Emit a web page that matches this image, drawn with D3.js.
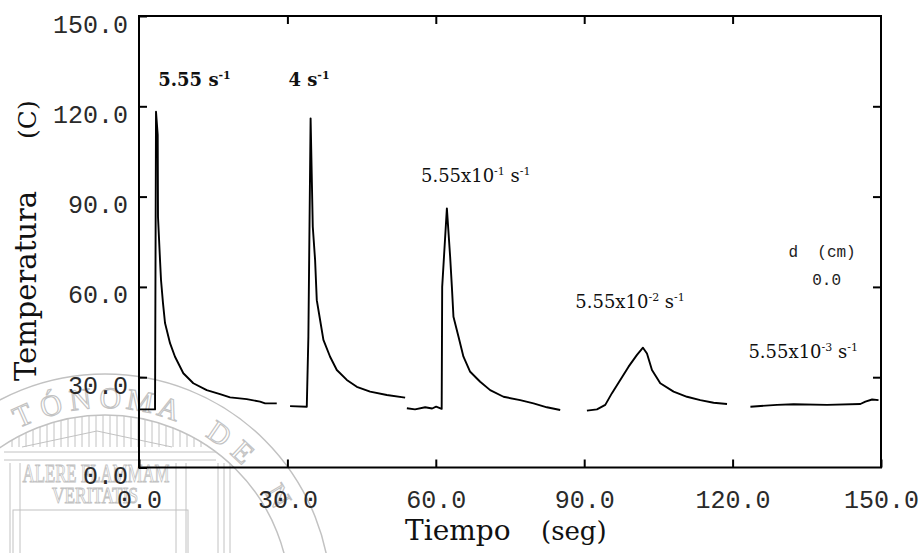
<!DOCTYPE html>
<html>
<head>
<meta charset="utf-8">
<script src="https://cdn.jsdelivr.net/npm/d3@7"></script>
<style>
  body { margin: 0; background: #fff; }
  svg { display: block; }
  .tick text { font-family: "Liberation Mono", "DejaVu Sans Mono", monospace; font-size: 25px; fill: #2a2a2a; }
  .tick line { stroke: #000; stroke-width: 2px; }
</style>
</head>
<body>
<svg width="923" height="553"></svg>
<script>
  // ticks on both axes
  const xTicks = [0, 30, 60, 90, 120, 150];
  const yTicks = [0, 30, 60, 90, 120, 150];

  // one run per strain rate (tiempo in seg, temperatura in C)
  const rates = ["5.55", "4", "5.55x10-1", "5.55x10-2", "5.55x10-3"];

  const tiempo1 = [0, 3.24, 3.44, 3.78, 3.84, 4.25, 4.45, 4.85, 5.26, 6.27, 7.28, 8.96, 10.98, 13.69, 16.38, 18.41, 21.78, 24.47, 25.49, 27.85];
  const temp1   = [19.3, 19.3, 118.2, 110.5, 83.3, 68.9, 62.3, 54.6, 48, 41.3, 36.8, 31.3, 28, 25.7, 24.4, 23.3, 22.7, 21.9, 21.3, 21.3];

  const tiempo2 = [30.54, 33.92, 34.24, 34.69, 35.13, 35.6, 35.94, 36.61, 37.28, 38.63, 39.99, 42.01, 44.03, 46.72, 50.1, 53.8];
  const temp2   = [20.4, 20.2, 43.4, 116, 80, 68.9, 55.6, 49, 42.4, 36.8, 32.4, 29.1, 26.8, 25.2, 24.1, 23.2];

  const tiempo3 = [54.15, 55.8, 57.85, 59.26, 60.07, 61.19, 61.29, 62.24, 62.9, 63.25, 63.57, 64.58, 65.59, 66.95, 68.97, 70.99, 73.68, 77.06, 79.75, 82.46, 85.15];
  const temp3   = [19.7, 19.3, 20.0, 19.6, 20.2, 19.5, 60, 86.1, 70, 60, 50.1, 43.5, 36.8, 31.8, 28.5, 25.7, 23.5, 22.4, 21.3, 20, 19.1];

  const tiempo4 = [90.55, 92.58, 94.26, 95.61, 97.29, 98.97, 100.67, 101.88, 102.69, 103.7, 105.38, 108.07, 110.78, 113.47, 116.16, 118.87];
  const temp4   = [18.9, 19.3, 20.8, 24.7, 29.1, 33.5, 37.4, 39.8, 37.9, 32.4, 28, 25.2, 23.5, 22.4, 21.5, 21.1];

  const tiempo5 = [123.6, 128.98, 132.34, 139.1, 145.83, 146.84, 148.2, 149.5];
  const temp5   = [20.2, 20.8, 21.0, 20.8, 21.1, 21.9, 22.6, 22.4];

  const svg = d3.select("svg");

  const x = d3.scaleLinear().domain([0, 150]).range([139, 881]);
  const y = d3.scaleLinear().domain([0, 150]).range([467.5, 16]);

  // faint seal of the scanned thesis behind the chart
  const seal = svg.append("g").attr("stroke", "#c2c2c2").attr("fill", "none");
  const cx = 105, cy = 600;
  seal.append("circle").attr("cx", cx).attr("cy", cy).attr("r", 226).attr("stroke-width", 1.5);
  seal.append("circle").attr("cx", cx).attr("cy", cy).attr("r", 185).attr("stroke-width", 1.5);
  // ring lettering, one glyph at a time round the ring (only the visible part)
  const ring = "TÓNOMA DE N".split("");
  let ang = -24;
  ring.forEach(ch => {
    if (ch !== " ") {
      const a = ang * Math.PI / 180;
      const px = cx + 192 * Math.sin(a), py = cy - 192 * Math.cos(a);
      seal.append("text")
        .attr("transform", `translate(${px.toFixed(1)},${py.toFixed(1)}) rotate(${ang})`)
        .attr("text-anchor", "middle").attr("stroke-width", 1.1)
        .style("font-family", "Liberation Serif, serif").style("font-size", "30px")
        .text(ch);
    }
    ang += ch === " " ? 7.5 : 8.5;
  });
  // fluted frieze under the ring
  for (let fx = 12; fx <= 205; fx += 7) {
    const top = cy - Math.sqrt(185 * 185 - (fx - cx) * (fx - cx));
    seal.append("line").attr("x1", fx).attr("x2", fx).attr("y1", top).attr("y2", 447);
  }
  seal.append("path").attr("d", "M22,447 L97,431 L172,447");
  seal.append("line").attr("x1", 4).attr("x2", 216).attr("y1", 452).attr("y2", 452);
  seal.append("line").attr("x1", 4).attr("x2", 216).attr("y1", 460).attr("y2", 460);
  seal.append("rect").attr("x", 13).attr("y", 510).attr("width", 175).attr("height", 60);
  [10, 20, 176, 186, 218, 224, 230].forEach(px =>
    seal.append("line").attr("x1", px).attr("x2", px).attr("y1", 463).attr("y2", 553));
  seal.append("text").attr("x", 96).attr("y", 482)
    .attr("text-anchor", "middle").attr("stroke-width", 1)
    .attr("textLength", 147).attr("lengthAdjust", "spacingAndGlyphs")
    .style("font-family", "Liberation Serif, serif").style("font-size", "26px")
    .text("ALERE FLAMMAM");
  seal.append("text").attr("x", 95).attr("y", 503)
    .attr("text-anchor", "middle").attr("stroke-width", 1)
    .attr("textLength", 86).attr("lengthAdjust", "spacingAndGlyphs")
    .style("font-family", "Liberation Serif, serif").style("font-size", "24px")
    .text("VERITATIS");

  // axes, ticks pointing inward
  const fmt = d3.format(".1f");
  const gx = svg.append("g").attr("transform", `translate(0,${y(0)})`)
    .call(d3.axisBottom(x).tickValues(xTicks).tickFormat(fmt).tickSize(-8).tickSizeOuter(0));
  gx.selectAll(".tick text").attr("y", 0).attr("dy", 40);
  gx.select(".domain").remove();

  const gy = svg.append("g").attr("transform", `translate(${x(0)},0)`)
    .call(d3.axisLeft(y).tickValues(yTicks).tickFormat(fmt).tickSize(-8).tickPadding(11).tickSizeOuter(0));
  gy.selectAll(".tick text").attr("dy", 16);
  gy.select(".domain").remove();

  const gt = svg.append("g").attr("transform", `translate(0,${y(150)})`)
    .call(d3.axisTop(x).tickValues(xTicks.slice(1, -1)).tickSize(-8));
  gt.selectAll(".tick text").remove();
  gt.select(".domain").remove();

  const gr = svg.append("g").attr("transform", `translate(${x(150)},0)`)
    .call(d3.axisRight(y).tickValues(yTicks.slice(1, -1)).tickSize(-8));
  gr.selectAll(".tick text").remove();
  gr.select(".domain").remove();

  svg.append("rect")
    .attr("x", x(0)).attr("y", y(150))
    .attr("width", x(150) - x(0)).attr("height", y(0) - y(150))
    .attr("fill", "none").attr("stroke", "#000").attr("stroke-width", 2);

  // temperature curves, one path per run
  const line = d3.line().x(d => x(d[0])).y(d => y(d[1]));
  const runs = [[tiempo1, temp1], [tiempo2, temp2], [tiempo3, temp3], [tiempo4, temp4], [tiempo5, temp5]];
  runs.forEach(([ts, vs]) => {
    svg.append("path")
      .datum(d3.zip(ts, vs))
      .attr("d", line)
      .attr("fill", "none")
      .attr("stroke", "#000")
      .attr("stroke-width", 1.9)
      .attr("stroke-linejoin", "round");
  });

  // strain-rate labels beside each peak
  const labelAt = [[3.9, 126.7, true], [30.2, 126.7, true], [57.0, 94.9, false], [88.2, 52.9, false], [123.2, 36.3, false]];
  rates.forEach((r, i) => {
    const [t, T, bold] = labelAt[i];
    const parts = r.split("x10");
    const txt = svg.append("text")
      .attr("x", x(t)).attr("y", y(T))
      .style("font-family", "DejaVu Serif, serif")
      .style("font-size", "18px")
      .style("font-weight", bold ? "bold" : "normal")
      .attr("fill", "#111");
    txt.append("tspan").text(parts[0] + (parts.length > 1 ? "x10" : ""));
    if (parts.length > 1) {
      txt.append("tspan").attr("dy", -7).style("font-size", "11px").text(parts[1]);
      txt.append("tspan").attr("dy", 7).text(" s");
    } else {
      txt.append("tspan").text(" s");
    }
    txt.append("tspan").attr("dy", -7).style("font-size", "11px").text("-1");
  });

  // small legend in plotter font
  const mono = "Liberation Mono, DejaVu Sans Mono, monospace";
  svg.append("text").attr("x", x(131.3)).attr("y", y(70))
    .style("font-family", mono).style("font-size", "16px").attr("fill", "#222")
    .attr("xml:space", "preserve")
    .text("d  (cm)");
  svg.append("text").attr("x", x(136.1)).attr("y", y(60.6))
    .style("font-family", mono).style("font-size", "16px").attr("fill", "#222")
    .text("0.0");

  // axis titles
  const serif = "DejaVu Serif, serif";
  svg.append("text").attr("transform", "translate(36,381) rotate(-90)")
    .style("font-family", serif).style("font-size", "29px").attr("fill", "#111")
    .text("Temperatura");
  svg.append("text").attr("transform", "translate(36,139) rotate(-90)")
    .style("font-family", serif).style("font-size", "25px").attr("fill", "#111")
    .text("(C)");
  svg.append("text").attr("x", 405).attr("y", 540)
    .style("font-family", serif).style("font-size", "28px").attr("fill", "#111")
    .text("Tiempo");
  svg.append("text").attr("x", 541).attr("y", 540)
    .style("font-family", serif).style("font-size", "26px").attr("fill", "#111")
    .text("(seg)");
</script>
</body>
</html>
